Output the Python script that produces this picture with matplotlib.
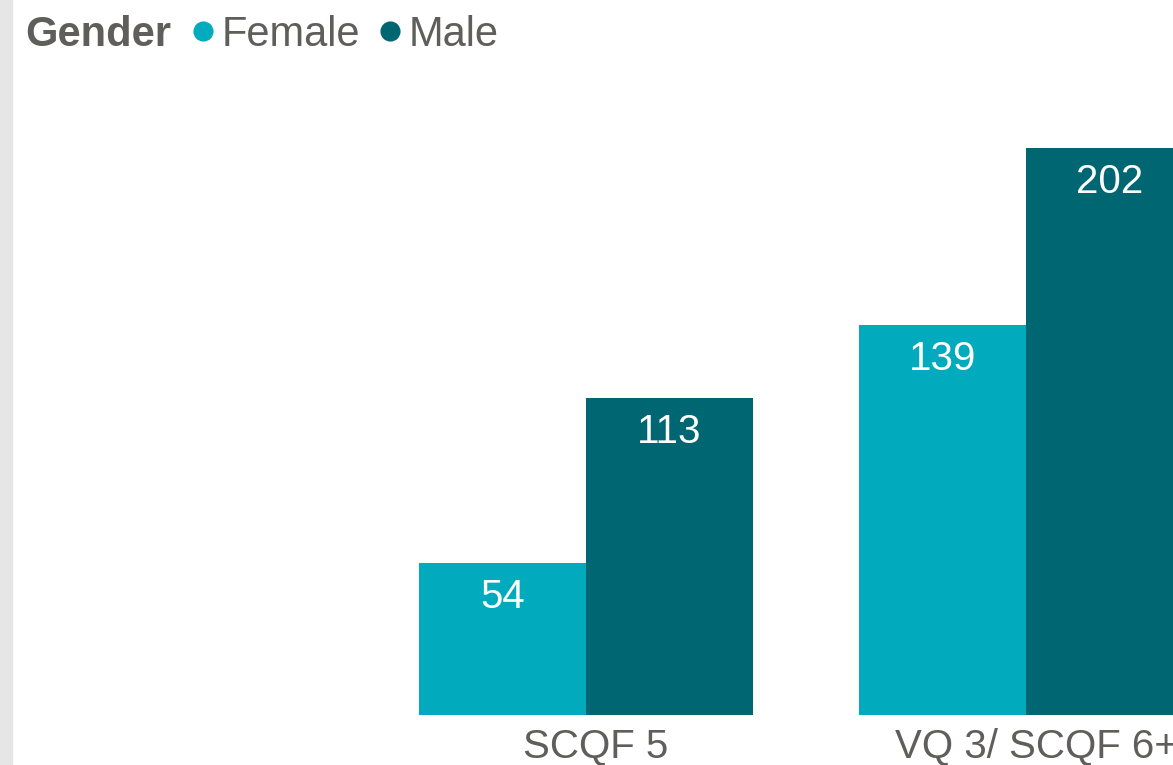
import matplotlib.pyplot as plt
from matplotlib.lines import Line2D
from matplotlib.patches import Rectangle
import numpy as np

# data
categories = ["SCQF 5", "VQ 3/ SCQF 6+"]
female = [54, 139]
male = [113, 202]
series_names = ["Female", "Male"]
colors = ["#01abbd", "#006672"]
text_grey = "#605e5c"

plt.rcParams['font.family'] = ['Liberation Sans', 'DejaVu Sans']

W, H = 1173, 765
fig = plt.figure(figsize=(W / 100, H / 100), dpi=100)

# grey strip on the left edge
fig.patches.append(Rectangle((0, 0), 12 / W, 1, transform=fig.transFigure,
                             color="#e6e6e6", zorder=0))

# axes box in pixel terms: left 12, right 1173, baseline 715, 202 at 148
ax = fig.add_axes([12 / W, (H - 715) / H, (W - 12) / W, (715 - 148) / H])

x = np.arange(len(categories))
w = 167 / 440
b1 = ax.bar(x - w / 2, female, width=w, color=colors[0])
b2 = ax.bar(x + w / 2, male, width=w, color=colors[1])

ax.set_ylim(0, 202)
ax.set_xlim(-(586 - 12) / 440, 1 + (1173 - 1026) / 440)

# value labels inside the bar tops
for bars, vals in [(b1, female), (b2, male)]:
    for r, v in zip(bars, vals):
        ax.annotate(str(v), (r.get_x() + r.get_width() / 2, v),
                    xytext=(0, -24.5), textcoords="offset points",
                    ha="center", va="center", color="white", fontsize=29)

# the right label runs off the edge, as in the reference
ax.set_xticks(x + 10 / 440)
ax.set_xticklabels(categories, fontsize=29, color=text_grey)
ax.tick_params(axis="x", length=0, pad=9)
ax.set_yticks([])
for s in ax.spines.values():
    s.set_visible(False)
ax.patch.set_alpha(0)

# legend row at the top
fig.text(25 / W, 1 - 35 / H, "Gender", fontsize=30, fontweight="bold",
         color=text_grey, va="center", ha="left")
handles = [Line2D([], [], marker="o", linestyle="", markersize=13.5,
                  markerfacecolor=c, markeredgecolor=c) for c in colors]
fig.legend(handles, series_names, loc="center left",
           bbox_to_anchor=(182 / W, 1 - 35 / H), ncol=2, frameon=False,
           fontsize=30, labelcolor=text_grey, handletextpad=-0.05,
           columnspacing=0.22, handlelength=1.0, borderpad=0, borderaxespad=0)

fig.savefig("out.png", dpi=100)
